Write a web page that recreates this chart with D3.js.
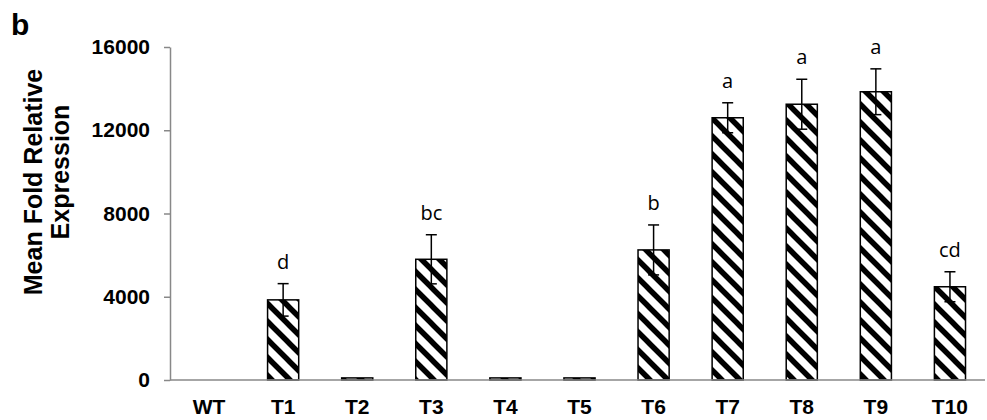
<!DOCTYPE html>
<html>
<head>
<meta charset="utf-8">
<script src="https://cdn.jsdelivr.net/npm/d3@7"></script>
<style>
  body { margin: 0; background: #fff; }
  svg { display: block; }
</style>
</head>
<body>
<div id="chart"></div>
<script>
// Data
var categories = ["WT", "T1", "T2", "T3", "T4", "T5", "T6", "T7", "T8", "T9", "T10"];
var means      = [0, 3850, 100, 5800, 100, 100, 6250, 12600, 13250, 13850, 4480];
var errors     = [0, 780, 0, 1180, 0, 0, 1200, 720, 1200, 1100, 720];
var letters    = ["", "d", "", "bc", "", "", "b", "a", "a", "a", "cd"];
var yTicks     = [0, 4000, 8000, 12000, 16000];

var width = 987, height = 420;
var plotLeft = 170, plotRight = 987, plotTop = 47, plotBottom = 380;

var svg = d3.select("#chart")
  .append("svg")
  .attr("width", width)
  .attr("height", height);

// hatch pattern "\\\" like the excel fill
var defs = svg.append("defs");
defs.append("pattern")
  .attr("id", "hatch")
  .attr("patternUnits", "userSpaceOnUse")
  .attr("width", 18)
  .attr("height", 18)
  .append("path")
  .attr("d", "M-5,-5 L23,23 M-5,13 L5,23 M13,-5 L23,5")
  .style("stroke", "#000")
  .style("stroke-width", 5.5);

var x = d3.scaleBand()
  .domain(categories)
  .range([plotLeft + 2, plotRight])
  .paddingInner(0.58)
  .paddingOuter(0.29);

var y = d3.scaleLinear()
  .domain([0, 16000])
  .range([plotBottom, plotTop]);

var rows = categories.map(function(c, i) {
  return { cat: c, mean: means[i], err: errors[i], letter: letters[i] };
});

// y axis
var yAxis = svg.append("g")
  .attr("transform", "translate(" + plotLeft + ",0)")
  .call(d3.axisLeft(y).tickValues(yTicks).tickFormat(d3.format("d"))
    .tickSize(6).tickSizeOuter(0).tickPadding(14));
yAxis.select(".domain").style("stroke", "#888").style("stroke-width", 1.5);
yAxis.selectAll(".tick line").style("stroke", "#888").style("stroke-width", 1.5);
yAxis.selectAll(".tick text")
  .style("font-family", "'Liberation Sans', Arial, sans-serif")
  .style("font-weight", "bold")
  .style("font-size", "21px")
  .style("fill", "#000");

// bars
svg.selectAll("rect.bar")
  .data(rows.filter(function(d) { return d.mean > 0; }))
  .enter()
  .append("rect")
  .attr("class", "bar")
  .attr("x", function(d) { return x(d.cat); })
  .attr("y", function(d) { return y(d.mean); })
  .attr("width", x.bandwidth())
  .attr("height", function(d) { return y(0) - y(d.mean); })
  .style("fill", "url(#hatch)")
  .style("stroke", "#000")
  .style("stroke-width", 1.5);

// x axis
var xAxis = svg.append("g")
  .attr("transform", "translate(0," + plotBottom + ")")
  .call(d3.axisBottom(x).tickSize(0).tickPadding(19));
xAxis.select(".domain").remove();
xAxis.selectAll(".tick text")
  .style("font-family", "'Liberation Sans', Arial, sans-serif")
  .style("font-weight", "bold")
  .style("font-size", "21px")
  .style("fill", "#000");
svg.append("line")
  .attr("x1", plotLeft).attr("x2", plotRight - 2)
  .attr("y1", y(0)).attr("y2", y(0))
  .style("stroke", "#888")
  .style("stroke-width", 1.5);

// error bars
var withErr = rows.filter(function(d) { return d.err > 0; });
var capW = 11;
var eb = svg.selectAll("g.err")
  .data(withErr)
  .enter()
  .append("g")
  .attr("class", "err")
  .style("stroke", "#000")
  .style("stroke-width", 1.5);
eb.append("line")
  .attr("x1", function(d) { return x(d.cat) + x.bandwidth() / 2; })
  .attr("x2", function(d) { return x(d.cat) + x.bandwidth() / 2; })
  .attr("y1", function(d) { return y(d.mean - d.err); })
  .attr("y2", function(d) { return y(d.mean + d.err); });
eb.append("line")
  .attr("x1", function(d) { return x(d.cat) + x.bandwidth() / 2 - capW / 2; })
  .attr("x2", function(d) { return x(d.cat) + x.bandwidth() / 2 + capW / 2; })
  .attr("y1", function(d) { return y(d.mean + d.err); })
  .attr("y2", function(d) { return y(d.mean + d.err); });
eb.append("line")
  .attr("x1", function(d) { return x(d.cat) + x.bandwidth() / 2 - capW / 2; })
  .attr("x2", function(d) { return x(d.cat) + x.bandwidth() / 2 + capW / 2; })
  .attr("y1", function(d) { return y(d.mean - d.err); })
  .attr("y2", function(d) { return y(d.mean - d.err); });

// significance letters
svg.selectAll("text.letter")
  .data(withErr)
  .enter()
  .append("text")
  .attr("class", "letter")
  .attr("x", function(d) { return x(d.cat) + x.bandwidth() / 2; })
  .attr("y", function(d) { return y(d.mean + d.err) - 15; })
  .attr("text-anchor", "middle")
  .style("font-family", "'Open Sans', sans-serif")
  .style("font-size", "20px")
  .style("fill", "#000")
  .text(function(d) { return d.letter; });

// y axis title, two lines
var title = svg.append("g")
  .style("font-family", "'Liberation Sans', Arial, sans-serif")
  .style("font-weight", "bold")
  .style("font-size", "25px")
  .style("fill", "#000");
title.append("text")
  .attr("transform", "translate(42,182) rotate(-90)")
  .attr("text-anchor", "middle")
  .text("Mean Fold Relative");
title.append("text")
  .attr("transform", "translate(69,172) rotate(-90)")
  .attr("text-anchor", "middle")
  .text("Expression");

// panel letter
svg.append("text")
  .attr("x", 11)
  .attr("y", 35)
  .style("font-family", "'Liberation Sans', Arial, sans-serif")
  .style("font-weight", "bold")
  .style("font-size", "30px")
  .text("b");
</script>
</body>
</html>
